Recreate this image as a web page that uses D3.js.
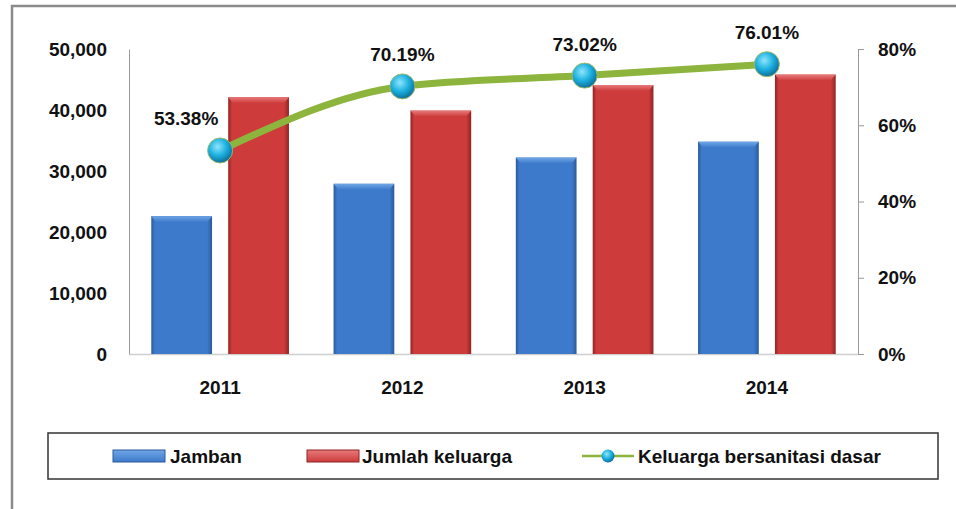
<!DOCTYPE html>
<head>
  <meta charset="utf-8">
  <script src="https://d3js.org/d3.v7.min.js"></script>
  <style>
    body { margin:0; background:#fff; }
    svg { font-family: "Liberation Sans", Arial, sans-serif; }
    .tick text, text.lbl, text.leg { font-weight: bold; font-size: 19px; fill: #111; }
  </style>
</head>
<body>
<svg width="956" height="509"></svg>

<script>
  // data
  var years     = ["2011", "2012", "2013", "2014"];
  var jamban    = [22600, 27900, 32200, 34800];
  var keluarga  = [42100, 39900, 44100, 45800];
  var sanitasi  = [53.38, 70.19, 73.02, 76.01];
  var leftTicks = [0, 10000, 20000, 30000, 40000, 50000];
  var rightTicks= [0, 20, 40, 60, 80];
  var legendNames = ["Jamban", "Jumlah keluarga", "Keluarga bersanitasi dasar"];

  var svg = d3.select("svg");
  var defs = svg.append("defs");

  // outer frame
  svg.append("rect")
    .attr("x", 12).attr("y", 6).attr("width", 960).attr("height", 520)
    .attr("fill", "none").attr("stroke", "#8a8a8a").attr("stroke-width", 2.5);

  var plotL = 129, plotR = 858, plotT = 49, plotB = 354;

  var x = d3.scaleBand().domain(years).range([plotL, plotR]);
  var sub = d3.scaleBand().domain(["jamban", "keluarga"])
    .range([0, x.bandwidth()]).paddingInner(0.21).paddingOuter(0.29);
  var y = d3.scaleLinear().domain([0, 50000]).range([plotB, plotT]);
  var y2 = d3.scaleLinear().domain([0, 80]).range([plotB, plotT]);

  // bevel gradients
  function bevel(id, edge, mid, light) {
    var g = defs.append("linearGradient").attr("id", id).attr("x1", 0).attr("x2", 1);
    g.append("stop").attr("offset", "0%").attr("stop-color", edge);
    g.append("stop").attr("offset", "6%").attr("stop-color", mid);
    g.append("stop").attr("offset", "92%").attr("stop-color", mid);
    g.append("stop").attr("offset", "100%").attr("stop-color", edge);
    var t = defs.append("linearGradient").attr("id", id + "Top").attr("x1", 0).attr("x2", 0).attr("y1", 0).attr("y2", 1);
    t.append("stop").attr("offset", "0%").attr("stop-color", light);
    t.append("stop").attr("offset", "100%").attr("stop-color", mid);
  }
  bevel("blueG", "#2b5a98", "#3d7acb", "#6fa6e6");
  bevel("redG", "#8f2424", "#cd3b3b", "#e87a7a");

  var ball = defs.append("radialGradient").attr("id", "ballG")
    .attr("cx", "40%").attr("cy", "35%").attr("r", "65%");
  ball.append("stop").attr("offset", "0%").attr("stop-color", "#8fe6fb");
  ball.append("stop").attr("offset", "55%").attr("stop-color", "#1cb0e0");
  ball.append("stop").attr("offset", "100%").attr("stop-color", "#0d6f9c");

  // axes
  var gx = svg.append("g").attr("transform", "translate(0," + plotB + ")")
    .call(d3.axisBottom(x).tickSize(0).tickPadding(27));
  gx.select(".domain").attr("stroke", "#cfcfcf").attr("stroke-width", 1.5);

  var gy = svg.append("g").attr("transform", "translate(" + plotL + ",0)")
    .call(d3.axisLeft(y).tickValues(leftTicks).tickSize(0).tickPadding(22).tickFormat(d3.format(",")));
  gy.select(".domain").attr("stroke", "#999");

  var gy2 = svg.append("g").attr("transform", "translate(" + plotR + ",0)")
    .call(d3.axisRight(y2).tickValues(rightTicks).tickSize(6).tickPadding(14).tickFormat(function(d) { return d + "%"; }));
  gy2.select(".domain").attr("stroke", "#999");
  gy2.selectAll(".tick line").attr("stroke", "#999");
  svg.selectAll(".tick text").attr("font-family", null).attr("font-size", null);

  // bars
  var series = [["jamban", jamban, "blueG"], ["keluarga", keluarga, "redG"]];
  series.forEach(function(s) {
    var g = svg.append("g");
    years.forEach(function(yr, i) {
      var bx = x(yr) + sub(s[0]), by = y(s[1][i]), bw = sub.bandwidth();
      g.append("rect").attr("x", bx).attr("y", by).attr("width", bw).attr("height", plotB - by)
        .attr("fill", "url(#" + s[2] + ")");
      g.append("path")
        .attr("d", "M" + bx + "," + by + "h" + bw + "l-5,6h" + (-(bw - 10)) + "z")
        .attr("fill", "url(#" + s[2] + "Top)");
    });
  });

  // line
  var pts = years.map(function(yr, i) { return [x(yr) + x.bandwidth() / 2, y2(sanitasi[i])]; });
  svg.append("path")
    .attr("d", d3.line().curve(d3.curveMonotoneX)(pts))
    .attr("fill", "none").attr("stroke", "#8db43c").attr("stroke-width", 7);

  svg.selectAll("circle.pt").data(pts).enter().append("circle")
    .attr("class", "pt")
    .attr("cx", function(d) { return d[0]; })
    .attr("cy", function(d) { return d[1]; })
    .attr("r", 12.5)
    .attr("fill", "url(#ballG)")
    .attr("stroke", "#9bb86a").attr("stroke-width", 1);

  svg.selectAll("text.lbl").data(pts).enter().append("text")
    .attr("class", "lbl")
    .attr("text-anchor", "middle")
    .attr("x", function(d, i) { return d[0] + (i === 0 ? -34 : 0); })
    .attr("y", function(d) { return d[1] - 25; })
    .text(function(d, i) { return sanitasi[i].toFixed(2) + "%"; });

  // legend
  var leg = svg.append("g");
  leg.append("rect").attr("x", 48).attr("y", 433).attr("width", 890).attr("height", 46)
    .attr("fill", "#fff").attr("stroke", "#333").attr("stroke-width", 1.5);

  var ly = 456;
  [["blueG", 113], ["redG", 307]].forEach(function(s) {
    leg.append("rect").attr("x", s[1]).attr("y", ly - 6).attr("width", 52).attr("height", 12)
      .attr("fill", "url(#" + s[0] + "Top)").attr("stroke", s[0] === "blueG" ? "#2b5a98" : "#8f2424")
      .attr("stroke-width", 1);
  });
  leg.append("line").attr("x1", 582).attr("x2", 634).attr("y1", ly).attr("y2", ly)
    .attr("stroke", "#8db43c").attr("stroke-width", 2.5);
  leg.append("circle").attr("cx", 608).attr("cy", ly).attr("r", 6.5).attr("fill", "url(#ballG)");

  leg.selectAll("text.leg").data(legendNames).enter().append("text")
    .attr("class", "leg")
    .attr("x", function(d, i) { return [170, 362, 638][i]; })
    .attr("y", ly + 7)
    .text(function(d) { return d; });
</script>
</body>
